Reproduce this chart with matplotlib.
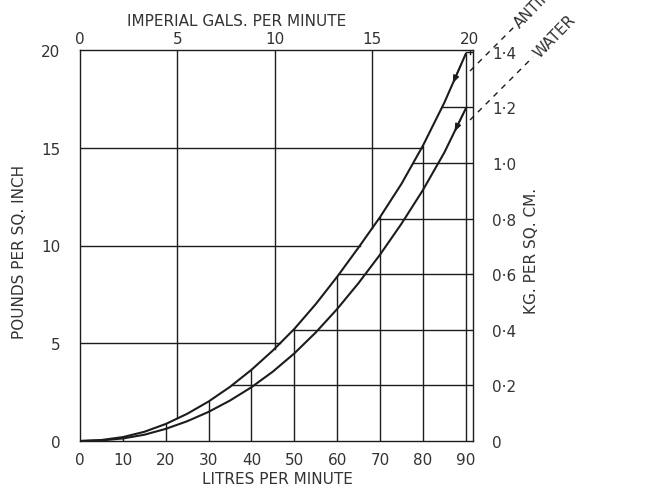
import numpy as np
import matplotlib.pyplot as plt
from matplotlib.lines import Line2D

# pressure drop against flow
litres = [0, 5, 10, 15, 20, 25, 30, 35, 40, 45, 50, 55, 60, 65, 70, 75, 80, 85, 90]
antifreeze_psi = [0, 0.05, 0.20, 0.47, 0.87, 1.39, 2.02, 2.77, 3.64, 4.63, 5.73,
                  7.0, 8.4, 9.9, 11.45, 13.15, 15.1, 17.3, 19.8]
water_psi = [0, 0.03, 0.13, 0.32, 0.62, 1.01, 1.49, 2.07, 2.75, 3.55, 4.48,
             5.55, 6.75, 8.08, 9.53, 11.11, 12.83, 14.75, 17.0]

litre_ticks = [0, 10, 20, 30, 40, 50, 60, 70, 80, 90]
gal_ticks = [0, 5, 10, 15, 20]
psi_ticks = [0, 5, 10, 15, 20]
kg_ticks = [0, 0.2, 0.4, 0.6, 0.8, 1.0, 1.2, 1.4]
kg_labels = ['0', '0·2', '0·4', '0·6', '0·8', '1·0', '1·2', '1·4']

GAL = 4.54609      # litres per imperial gallon
KG = 14.2233       # psi per kg/cm2
XMAX = 91.7

W, H = 648, 489
ink = '#1c1c1c'
txt = '#333333'


def px(x, y):
    # pixel position -> figure fraction
    return x / W, 1 - y / H


def upper_at(q):
    return np.interp(q, litres, antifreeze_psi)


def flow_at(p):
    return np.interp(p, antifreeze_psi, litres)


fig = plt.figure(figsize=(W / 100, H / 100), dpi=100)
ax = fig.add_axes([80 / W, 1 - 442 / H, (473 - 80) / W, (442 - 51) / H])
ax.set_xlim(0, XMAX)
ax.set_ylim(0, 20)

# grid lines stop where they meet the antifreeze curve
glw = 1.0
for q in litre_ticks[1:]:
    ax.plot([q, q], [0, upper_at(q)], color=ink, lw=glw)
for g in gal_ticks[1:]:
    q = g * GAL
    ax.plot([q, q], [upper_at(q), 20], color=ink, lw=glw)
for p in psi_ticks[1:-1]:
    ax.plot([0, flow_at(p)], [p, p], color=ink, lw=glw)
for k in kg_ticks[1:]:
    p = k * KG
    ax.plot([flow_at(p), XMAX], [p, p], color=ink, lw=glw)

ax.plot(litres, antifreeze_psi, color=ink, lw=1.5, solid_joinstyle='round')
ax.plot(litres, water_psi, color=ink, lw=1.5, solid_joinstyle='round')

# small direction arrows near the top of each curve
for ys, q0, q1 in [(antifreeze_psi, 89.0, 87.0), (water_psi, 89.4, 87.4)]:
    ax.annotate('', xy=(q1, np.interp(q1, litres, ys)),
                xytext=(q0, np.interp(q0, litres, ys)),
                arrowprops=dict(arrowstyle='-|>,head_length=0.45,head_width=0.18',
                                color=ink, lw=1.0, shrinkA=0, shrinkB=0))

for s in ax.spines.values():
    s.set_color(ink)
    s.set_linewidth(1.0)

ax.set_xticks(litre_ticks)
ax.set_yticks(psi_ticks)
ax.tick_params(length=0, labelsize=11, labelcolor=txt)
ax.tick_params(axis='x', pad=8)
ax.tick_params(axis='y', pad=14)

top = ax.secondary_xaxis('top', functions=(lambda q: q / GAL, lambda g: g * GAL))
top.set_xticks(gal_ticks)
top.tick_params(length=0, labelsize=11, labelcolor=txt, pad=3)
top.spines['top'].set_visible(False)

right = ax.secondary_yaxis('right', functions=(lambda p: p / KG, lambda k: k * KG))
right.set_yticks(kg_ticks, labels=kg_labels)
right.tick_params(length=0, labelsize=11, labelcolor=txt, pad=14)
right.spines['right'].set_visible(False)

fs = 11
fig.text(*px(237, 21), 'IMPERIAL GALS. PER MINUTE', ha='center', va='center',
         fontsize=fs, color=txt)
fig.text(*px(277, 480), 'LITRES PER MINUTE', ha='center', va='center',
         fontsize=fs, color=txt)
fig.text(*px(20, 252), 'POUNDS PER SQ. INCH', ha='center', va='center',
         rotation=90, fontsize=fs, color=txt)
fig.text(*px(531, 251), 'KG. PER SQ. CM.', ha='center', va='center',
         rotation=90, fontsize=fs, color=txt)

# leader lines to the curve names
for (x0, y0), (x1, y1) in [((470, 72), (514, 28)), ((470, 121), (533, 58))]:
    a, b = px(x0, y0)
    c, d = px(x1, y1)
    fig.add_artist(Line2D([a, c], [b, d], transform=fig.transFigure,
                          color=ink, lw=1.0, ls=(0, (4, 4))))
fig.text(*px(517, 26), 'ANTIFREEZE', rotation=46, rotation_mode='anchor',
         ha='left', va='center', fontsize=fs, color=txt)
fig.text(*px(536, 56), 'WATER', rotation=46, rotation_mode='anchor',
         ha='left', va='center', fontsize=fs, color=txt)

fig.savefig('out.png', dpi=100)
